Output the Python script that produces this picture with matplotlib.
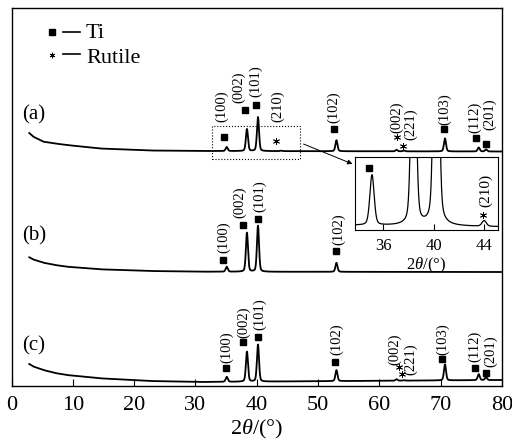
import numpy as np
import matplotlib
matplotlib.use('Agg')
import matplotlib.pyplot as plt

plt.rcParams['font.family'] = ['Liberation Serif', 'DejaVu Serif']
plt.rcParams['mathtext.fontset'] = 'custom'
plt.rcParams['mathtext.rm'] = 'Liberation Serif'
plt.rcParams['mathtext.it'] = 'Liberation Serif:italic'

# peak positions, 2theta (deg)
ti_pos = [35.1, 38.4, 40.2, 53.0, 70.7, 76.2, 77.4]
ru_pos = [44.0, 62.8, 64.0]
# peak heights (same units as the y axis)
ti_a = [4, 22, 34, 11, 13, 4, 2]
ti_b = [5, 39, 46, 9, 0, 0, 0]
ti_c = [5, 30, 37, 11, 16, 6, 3]
ru_a = [0.45, 1.5, 0.8]
ru_b = [0, 0, 0]
ru_c = [0, 1.5, 0.5]
# background level read at a few angles
bg_x = [2.9, 3.56, 5.2, 7.1, 9.0, 14.4, 22.5, 30.7, 80.0]
bg_a = [253, 249.3, 244.3, 242.5, 241, 237.5, 235.5, 235, 234.5]
bg_b = [128.7, 126.5, 123.3, 121, 119.3, 116.7, 115, 114.3, 114]
bg_c = [22, 19.5, 16, 13, 11, 7.7, 5, 4, 6]

# peak labels: (text, phase, marker x, marker y, text x, text bottom)
labels_a = [('(100)', 'Ti', 34.71, 249.3, 34.28, 264),
            ('(002)', 'Ti', 38.08, 276, 37.11, 283),
            ('(101)', 'Ti', 39.83, 281, 39.88, 289),
            ('(210)', 'R', 43.14, 245, 43.42, 264),
            ('(102)', 'Ti', 52.65, 256.7, 52.49, 263),
            ('(002)', 'R', 62.88, 249.3, 62.83, 253),
            ('(221)', 'R', 63.81, 240.3, 65.16, 246),
            ('(103)', 'Ti', 70.49, 256.7, 70.59, 261),
            ('(112)', 'Ti', 75.76, 248.3, 75.48, 253),
            ('(201)', 'Ti', 77.39, 242, 77.93, 256)]
labels_b = [('(100)', 'Ti', 34.55, 126, 34.55, 133),
            ('(002)', 'Ti', 37.81, 161, 37.27, 168),
            ('(101)', 'Ti', 40.16, 166.7, 40.53, 174.3),
            ('(102)', 'Ti', 52.88, 135, 53.3, 141)]
labels_c = [('(100)', 'Ti', 34.99, 17.7, 35.1, 23),
            ('(002)', 'Ti', 37.81, 44.3, 37.81, 48),
            ('(101)', 'Ti', 40.16, 49.3, 40.53, 56),
            ('(102)', 'Ti', 52.76, 24.3, 53.04, 31),
            ('(002)', 'R', 63.15, 19.3, 62.44, 21),
            ('(221)', 'R', 63.64, 12, 65.16, 11),
            ('(103)', 'Ti', 70.22, 26.7, 70.33, 31),
            ('(112)', 'Ti', 75.65, 17.7, 75.48, 24.3),
            ('(201)', 'Ti', 77.39, 12.7, 78.21, 19.3)]

fwhm = 0.4


def pattern(x, bg, ti_h, ru_h):
    y = np.interp(x, bg_x, bg)
    for p, h in zip(ti_pos + ru_pos, ti_h + ru_h):
        u = (x - p) / fwhm
        y = y + h * (0.7 * np.exp(-4 * np.log(2) * u**2) + 0.3 / (1 + 4 * u**2))
    return y


def mark(ax, phase, x, y, ms=5):
    if phase == 'Ti':
        ax.plot(x, y, 's', color='k', ms=ms, mec='k')
    else:
        ax.plot(x, y, marker=(6, 2, 0), color='k', ms=ms, mew=0.6, ls='none')


tt = np.linspace(2.9, 80, 6000)
ya = pattern(tt, bg_a, ti_a, ru_a)
yb = pattern(tt, bg_b, ti_b, ru_b)
yc = pattern(tt, bg_c, ti_c, ru_c)

fig = plt.figure(figsize=(5.12, 4.43), dpi=100)
ax = fig.add_axes([11.5 / 512, 1 - 386 / 443, 490.5 / 512, 378 / 443])
for y in (ya, yb, yc):
    ax.plot(tt, y, color='k', lw=1.3)
ax.set_xlim(0, 80)
ax.set_ylim(0, 378)
ax.set_yticks([])
ax.set_xticks(np.arange(0, 81, 10))
ax.tick_params(axis='x', direction='in', length=5, width=0.8, labelsize=16, pad=7)
for s in ax.spines.values():
    s.set_linewidth(1.0)
ax.set_xlabel(r'$2\theta$/(°)', fontsize=16, labelpad=2)

for labs in (labels_a, labels_b, labels_c):
    for txt, ph, mx, my, tx, ty in labs:
        mark(ax, ph, mx, my)
        ax.text(tx, ty, txt, rotation=90, ha='center', va='bottom', fontsize=10.5)

for name, yy in (('(a)', 271), ('(b)', 150), ('(c)', 40)):
    ax.text(1.66, yy, name, fontsize=15, ha='left', va='center')

# legend drawn by hand
ax.plot(6.56, 353.7, 's', color='k', ms=5)
ax.plot([8.45, 11.17], [354, 354], color='k', lw=1.2)
ax.text(12.15, 347.7, 'Ti', fontsize=16, va='baseline')
ax.plot(6.56, 331, marker=(6, 2, 0), color='k', ms=4, mew=0.6, ls='none')
ax.plot([8.45, 11.17], [332, 332], color='k', lw=1.2)
ax.text(12.15, 322.7, 'Rutile', fontsize=16, va='baseline')

# zoom box and arrow
ax.plot([32.65, 47.06, 47.06, 32.65, 32.65], [227, 227, 260.3, 260.3, 227],
        color='k', ls=':', lw=0.8)
ax.annotate('', xy=(56.03, 221), xytext=(47.22, 243),
            arrowprops=dict(arrowstyle='-|>', color='k', lw=0.7, mutation_scale=7))

# inset
ins = fig.add_axes([355 / 512, 1 - 230 / 443, 143 / 512, 73 / 443])
ins.plot(tt, ya, color='k', lw=0.9)
ins.set_xlim(33.75, 45.1)
ins.set_ylim(234.6, 240.4)
ins.set_yticks([])
ins.set_xticks([36, 40, 44])
ins.tick_params(axis='x', direction='in', length=4, width=0.8, labelsize=12, pad=6)
ins.set_xlabel(r'$2\theta$/(°)', fontsize=12, labelpad=1)
mark(ins, 'Ti', 34.9, 239.5)
mark(ins, 'R', 43.94, 235.8)
ins.text(44.08, 236.45, '(210)', rotation=90, ha='center', va='bottom', fontsize=11)

fig.savefig('out.png', dpi=100)
